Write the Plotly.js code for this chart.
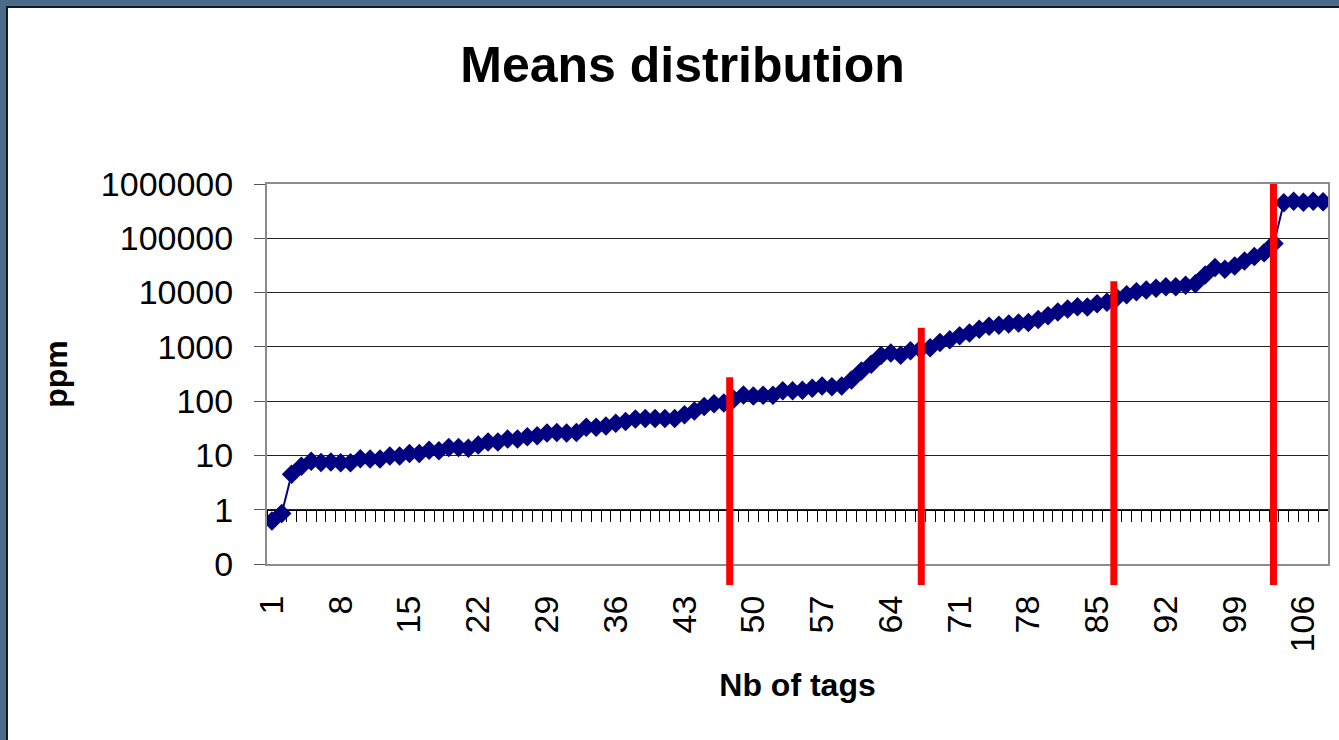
<!DOCTYPE html>
<html><head><meta charset="utf-8">
<script src="https://cdn.plot.ly/plotly-3.0.1.min.js"></script>
<style>
html,body{margin:0;padding:0;background:#fff;}
#wrap{position:relative;width:1339px;height:740px;overflow:hidden;}
#chart{position:absolute;left:0;top:0;width:1339px;height:740px;}
.fr{position:absolute;pointer-events:none;}
</style></head><body>
<div id="wrap">
<div id="chart"></div>
<div class="fr" style="left:0;top:0;width:1339px;height:6px;background:#4b6b88"></div>
<div class="fr" style="left:0;top:0;width:6px;height:740px;background:#4b6b88"></div>
<div class="fr" style="left:6px;top:6px;width:1333px;height:2px;background:#0e1a26"></div>
<div class="fr" style="left:6px;top:6px;width:2px;height:734px;background:#0e1a26"></div>
</div>
<script>
// ---- data ----
const ppm = [
  0.62, 0.85, 4.5, 6.3, 7.8, 7.4, 7.6, 7.3, 7.3, 8.7,
  8.6, 8.6, 9.8, 9.8, 10.9, 10.9, 12.5, 12.2, 14, 14,
  13.6, 15.6, 17.6, 17.6, 20, 20, 22, 23, 26, 26.5,
  26, 26.5, 33, 33, 35, 39, 42, 47, 48, 48,
  48, 48, 56, 66, 80, 90, 92, 108, 130, 124,
  128, 128, 155, 155, 158, 172, 190, 185, 190, 245,
  360, 480, 690, 770, 700, 850, 900, 960, 1200, 1350,
  1600, 1800, 2100, 2400, 2500, 2650, 2750, 2800, 3200, 3750,
  4400, 5000, 5500, 5400, 6200, 6600, 8000, 9100, 10400, 11200,
  12000, 12800, 12800, 13700, 14500, 21000, 29000, 27000, 31000, 38000,
  46000, 54000, 80000, 450000, 480000, 460000, 480000, 470000
];
const tags = ppm.map((_, i) => i + 1);
const xLabelTags = [1, 8, 15, 22, 29, 36, 43, 50, 57, 64, 71, 78, 85, 92, 99, 106];
const yTickVals = [0.1, 1, 10, 100, 1000, 10000, 100000, 1000000];
const yTickText = ['0', '1', '10', '100', '1000', '10000', '100000', '1000000'];
const cutoffTag = [47.6, 67.1, 86.7, 102.95];
const cutoffTop = [275, 2240, 16200, 1000000];

// ---- layout helpers ----
const FONT = 'Liberation Sans, Arial, Helvetica, sans-serif';
const xRange = [0.5, tags.length + 0.5];
const yLogRange = [-1, 6];
const boundaries = tags.map(t => t - 0.5).concat([tags.length + 0.5]);
const yFrac = v => (Math.log10(v) - yLogRange[0]) / (yLogRange[1] - yLogRange[0]);
const crossFrac = yFrac(1);

const traces = [
  {
    x: tags, y: ppm, type: 'scatter', mode: 'lines+markers',
    line: {color: '#000080', width: 2},
    marker: {symbol: 'diamond', size: 15, color: '#000080'},
    showlegend: false, hoverinfo: 'x+y'
  },
  {
    x: [], y: [], xaxis: 'x2', yaxis: 'y', type: 'scatter', mode: 'markers',
    showlegend: false, hoverinfo: 'skip'
  }
];

const shapes = cutoffTag.map((t, i) => ({
  type: 'line', xref: 'x', yref: 'paper',
  x0: t, x1: t, y0: -21 / 380, y1: yFrac(cutoffTop[i]),
  line: {color: '#ff0000', width: 7}, layer: 'above'
}));

const layout = {
  width: 1339, height: 740,
  margin: {l: 267, r: 11, t: 184, b: 176, pad: 0},
  paper_bgcolor: '#ffffff', plot_bgcolor: '#ffffff',
  font: {family: FONT, color: '#000'},
  title: {
    text: '<b>Means distribution</b>',
    font: {family: FONT, size: 50, color: '#000'},
    x: 682.5 / 1339, xanchor: 'center', xref: 'container',
    y: 1 - 64 / 740, yanchor: 'middle', yref: 'container'
  },
  xaxis: {
    type: 'linear', range: xRange, autorange: false,
    tickmode: 'array', tickvals: xLabelTags, ticktext: xLabelTags.map(String),
    tickangle: -90, ticks: '', ticklabelstandoff: 16,
    tickfont: {family: FONT, size: 34, color: '#000'},
    showgrid: false, zeroline: false,
    showline: true, mirror: true, linecolor: '#8c8c8c', linewidth: 2,
    title: {text: '<b>Nb of tags</b>', font: {family: FONT, size: 32, color: '#000'}, standoff: 22},
    automargin: false
  },
  xaxis2: {
    overlaying: 'x', anchor: 'free', position: crossFrac, side: 'bottom',
    type: 'linear', range: xRange, autorange: false,
    tickmode: 'array', tickvals: boundaries, showticklabels: false,
    ticks: 'outside', ticklen: 11, tickwidth: 1, tickcolor: '#000',
    showline: true, linecolor: '#000', linewidth: 1,
    showgrid: false, zeroline: false, layer: 'below traces'
  },
  yaxis: {
    type: 'log', range: yLogRange, autorange: false,
    tickmode: 'array', tickvals: yTickVals, ticktext: yTickText,
    ticks: 'outside', ticklen: 11, tickwidth: 1, tickcolor: '#555',
    ticklabelstandoff: 14,
    tickfont: {family: FONT, size: 34, color: '#000'},
    showgrid: true, gridcolor: '#222', gridwidth: 1,
    zeroline: false,
    showline: true, mirror: true, linecolor: '#8c8c8c', linewidth: 2,
    title: {text: '<b>ppm</b>', font: {family: FONT, size: 32, color: '#000'}, standoff: 24},
    automargin: false
  },
  shapes: shapes,
  showlegend: false
};

Plotly.newPlot('chart', traces, layout, {displayModeBar: false, staticPlot: true});
</script>
</body></html>
